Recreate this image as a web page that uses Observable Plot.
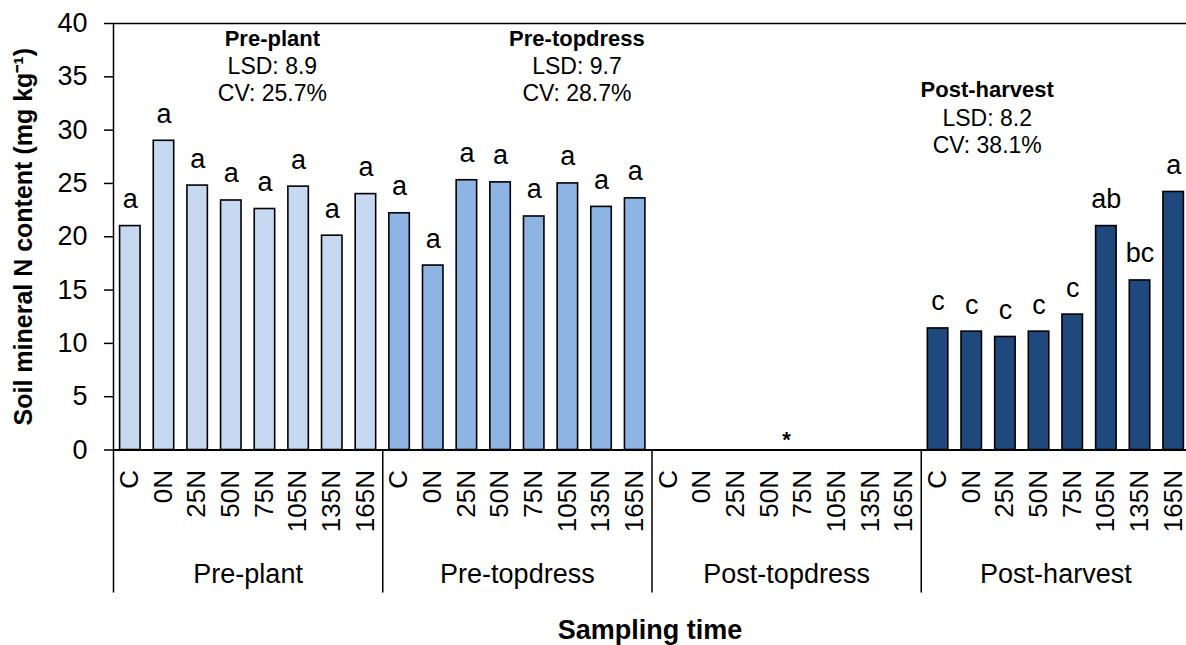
<!DOCTYPE html>
<html><head><meta charset="utf-8">
<script src="https://cdn.jsdelivr.net/npm/d3@7"></script>
<script src="https://cdn.jsdelivr.net/npm/@observablehq/plot@0.6"></script>
<style>html,body{margin:0;padding:0;background:#fff;overflow:hidden}</style>
</head><body><div id="chart"></div>
<script>
// ---- data ----
const groups = ["Pre-plant", "Pre-topdress", "Post-topdress", "Post-harvest"];
const treatments = ["C", "0N", "25N", "50N", "75N", "105N", "135N", "165N"];
const prePlant     = [21.0, 29.0, 24.8, 23.4, 22.6, 24.7, 20.1, 24.0];
const preTopdress  = [22.2, 17.3, 25.3, 25.1, 21.9, 25.0, 22.8, 23.6];
const postTopdress = [null, null, null, null, null, null, null, null];
const postHarvest  = [11.4, 11.1, 10.6, 11.1, 12.7, 21.0, 15.9, 24.2];
const lettersPrePlant     = ["a", "a", "a", "a", "a", "a", "a", "a"];
const lettersPreTopdress  = ["a", "a", "a", "a", "a", "a", "a", "a"];
const lettersPostTopdress = [null, null, null, null, null, null, null, null];
const lettersPostHarvest  = ["c", "c", "c", "c", "c", "ab", "bc", "a"];
const statGroups = ["Pre-plant", "Pre-topdress", "Post-harvest"];
const lsd = [8.9, 9.7, 8.2];
const cv = [25.7, 28.7, 38.1];
const missingGroup = "Post-topdress";
const missingMark = "*";
const yTicks = [0, 5, 10, 15, 20, 25, 30, 35, 40];
const yTitle = "Soil mineral N content (mg kg\u207B\u00B9)";
const xTitle = "Sampling time";

// ---- styling / layout ----
const groupColors = ["#C6D9F1", "#8EB4E3", "#FFFFFF", "#1F497D"];
const nT = treatments.length;
const statLayout = { // annotation anchor (band units) and baseline (y units)
  "Pre-plant":    {x: 4.72,  y: 37.9},
  "Pre-topdress": {x: 13.77, y: 37.9},
  "Post-harvest": {x: 25.96, y: 33.1}
};

const series = [prePlant, preTopdress, postTopdress, postHarvest];
const letterSeries = [lettersPrePlant, lettersPreTopdress, lettersPostTopdress, lettersPostHarvest];
const rows = groups.flatMap((g, gi) => treatments.map((t, ti) => ({
  group: g, treatment: t, pos: gi * nT + ti, value: series[gi][ti], letter: letterSeries[gi][ti]
})));
const bars = rows.filter(d => d.value != null);
const stats = statGroups.map((g, i) => ({group: g, lsd: lsd[i], cv: cv[i]}));
const nTotal = groups.length * nT;
const bottomY = -13.4;

const chart = Plot.plot({
  width: 1186,
  height: 645,
  marginLeft: 113,
  marginRight: 0,
  marginTop: 23,
  marginBottom: 195.5,
  style: {fontFamily: "'Liberation Sans', Arial, sans-serif", color: "#000", background: "#fff"},
  x: {domain: [0, nTotal], range: [113, 1190], axis: null},
  y: {domain: [0, 40], axis: null},
  color: {domain: groups, range: groupColors},
  marks: [
    Plot.rect(bars, {x1: "pos", x2: d => d.pos + 1, y1: 0, y2: "value", fill: "group",
      stroke: "#000", strokeWidth: 1.6, insetLeft: 6.6, insetRight: 6.6}),
    Plot.ruleY([40], {x1: 0, x2: nTotal, stroke: "#000", strokeWidth: 1.5}),
    Plot.ruleY([0], {x1: 0, x2: nTotal, stroke: "#000", strokeWidth: 2}),
    Plot.ruleX([0], {y1: 40, y2: bottomY, stroke: "#000", strokeWidth: 1.5}),
    Plot.ruleX(groups.map((g, i) => (i + 1) * nT), {y1: 0, y2: bottomY, stroke: "#000", strokeWidth: 1.5}),
    Plot.axisY(yTicks, {tickSize: 9, tickPadding: 17, fontSize: 27, label: null, stroke: "#000", strokeWidth: 1.5}),
    // letters above bars
    Plot.text(bars, {x: d => d.pos + 0.5, y: "value", text: "letter", lineAnchor: "bottom", dy: -18, fontSize: 27}),
    // treatment tick labels
    Plot.text(rows, {x: d => d.pos + 0.5, y: 0, text: "treatment", rotate: -90, textAnchor: "end",
      lineAnchor: "middle", dy: 20, dx: -0.5, fontSize: 26}),
    // group labels
    Plot.text(groups, {x: (d, i) => i * nT + nT / 2, y: 0, text: d => d, lineAnchor: "bottom", dy: 133, fontSize: 27}),
    // missing-data asterisk
    Plot.text([missingMark], {x: () => groups.indexOf(missingGroup) * nT + nT / 2, y: 0, text: d => d,
      lineAnchor: "bottom", dy: -3, fontSize: 22, fontWeight: "bold"}),
    // LSD / CV annotations
    Plot.text(stats, {x: d => statLayout[d.group].x, y: d => statLayout[d.group].y, text: "group",
      lineAnchor: "bottom", fontSize: 22, fontWeight: "bold"}),
    Plot.text(stats, {x: d => statLayout[d.group].x, y: d => statLayout[d.group].y, text: d => `LSD: ${d.lsd.toFixed(1)}`,
      lineAnchor: "bottom", dy: 28.5, fontSize: 23}),
    Plot.text(stats, {x: d => statLayout[d.group].x, y: d => statLayout[d.group].y, text: d => `CV: ${d.cv.toFixed(1)}%`,
      lineAnchor: "bottom", dy: 55.5, fontSize: 23}),
    // axis titles
    Plot.text([yTitle], {frameAnchor: "left", y: () => 20, text: d => d, rotate: -90, dx: -90,
      textAnchor: "middle", lineAnchor: "middle", fontSize: 25, fontWeight: "bold"}),
    Plot.text([xTitle], {frameAnchor: "bottom", text: d => d, textAnchor: "middle", lineAnchor: "bottom", dy: 188.5,
      fontSize: 27, fontWeight: "bold"})
  ]
});
document.getElementById("chart").appendChild(chart);
</script>
</body></html>
